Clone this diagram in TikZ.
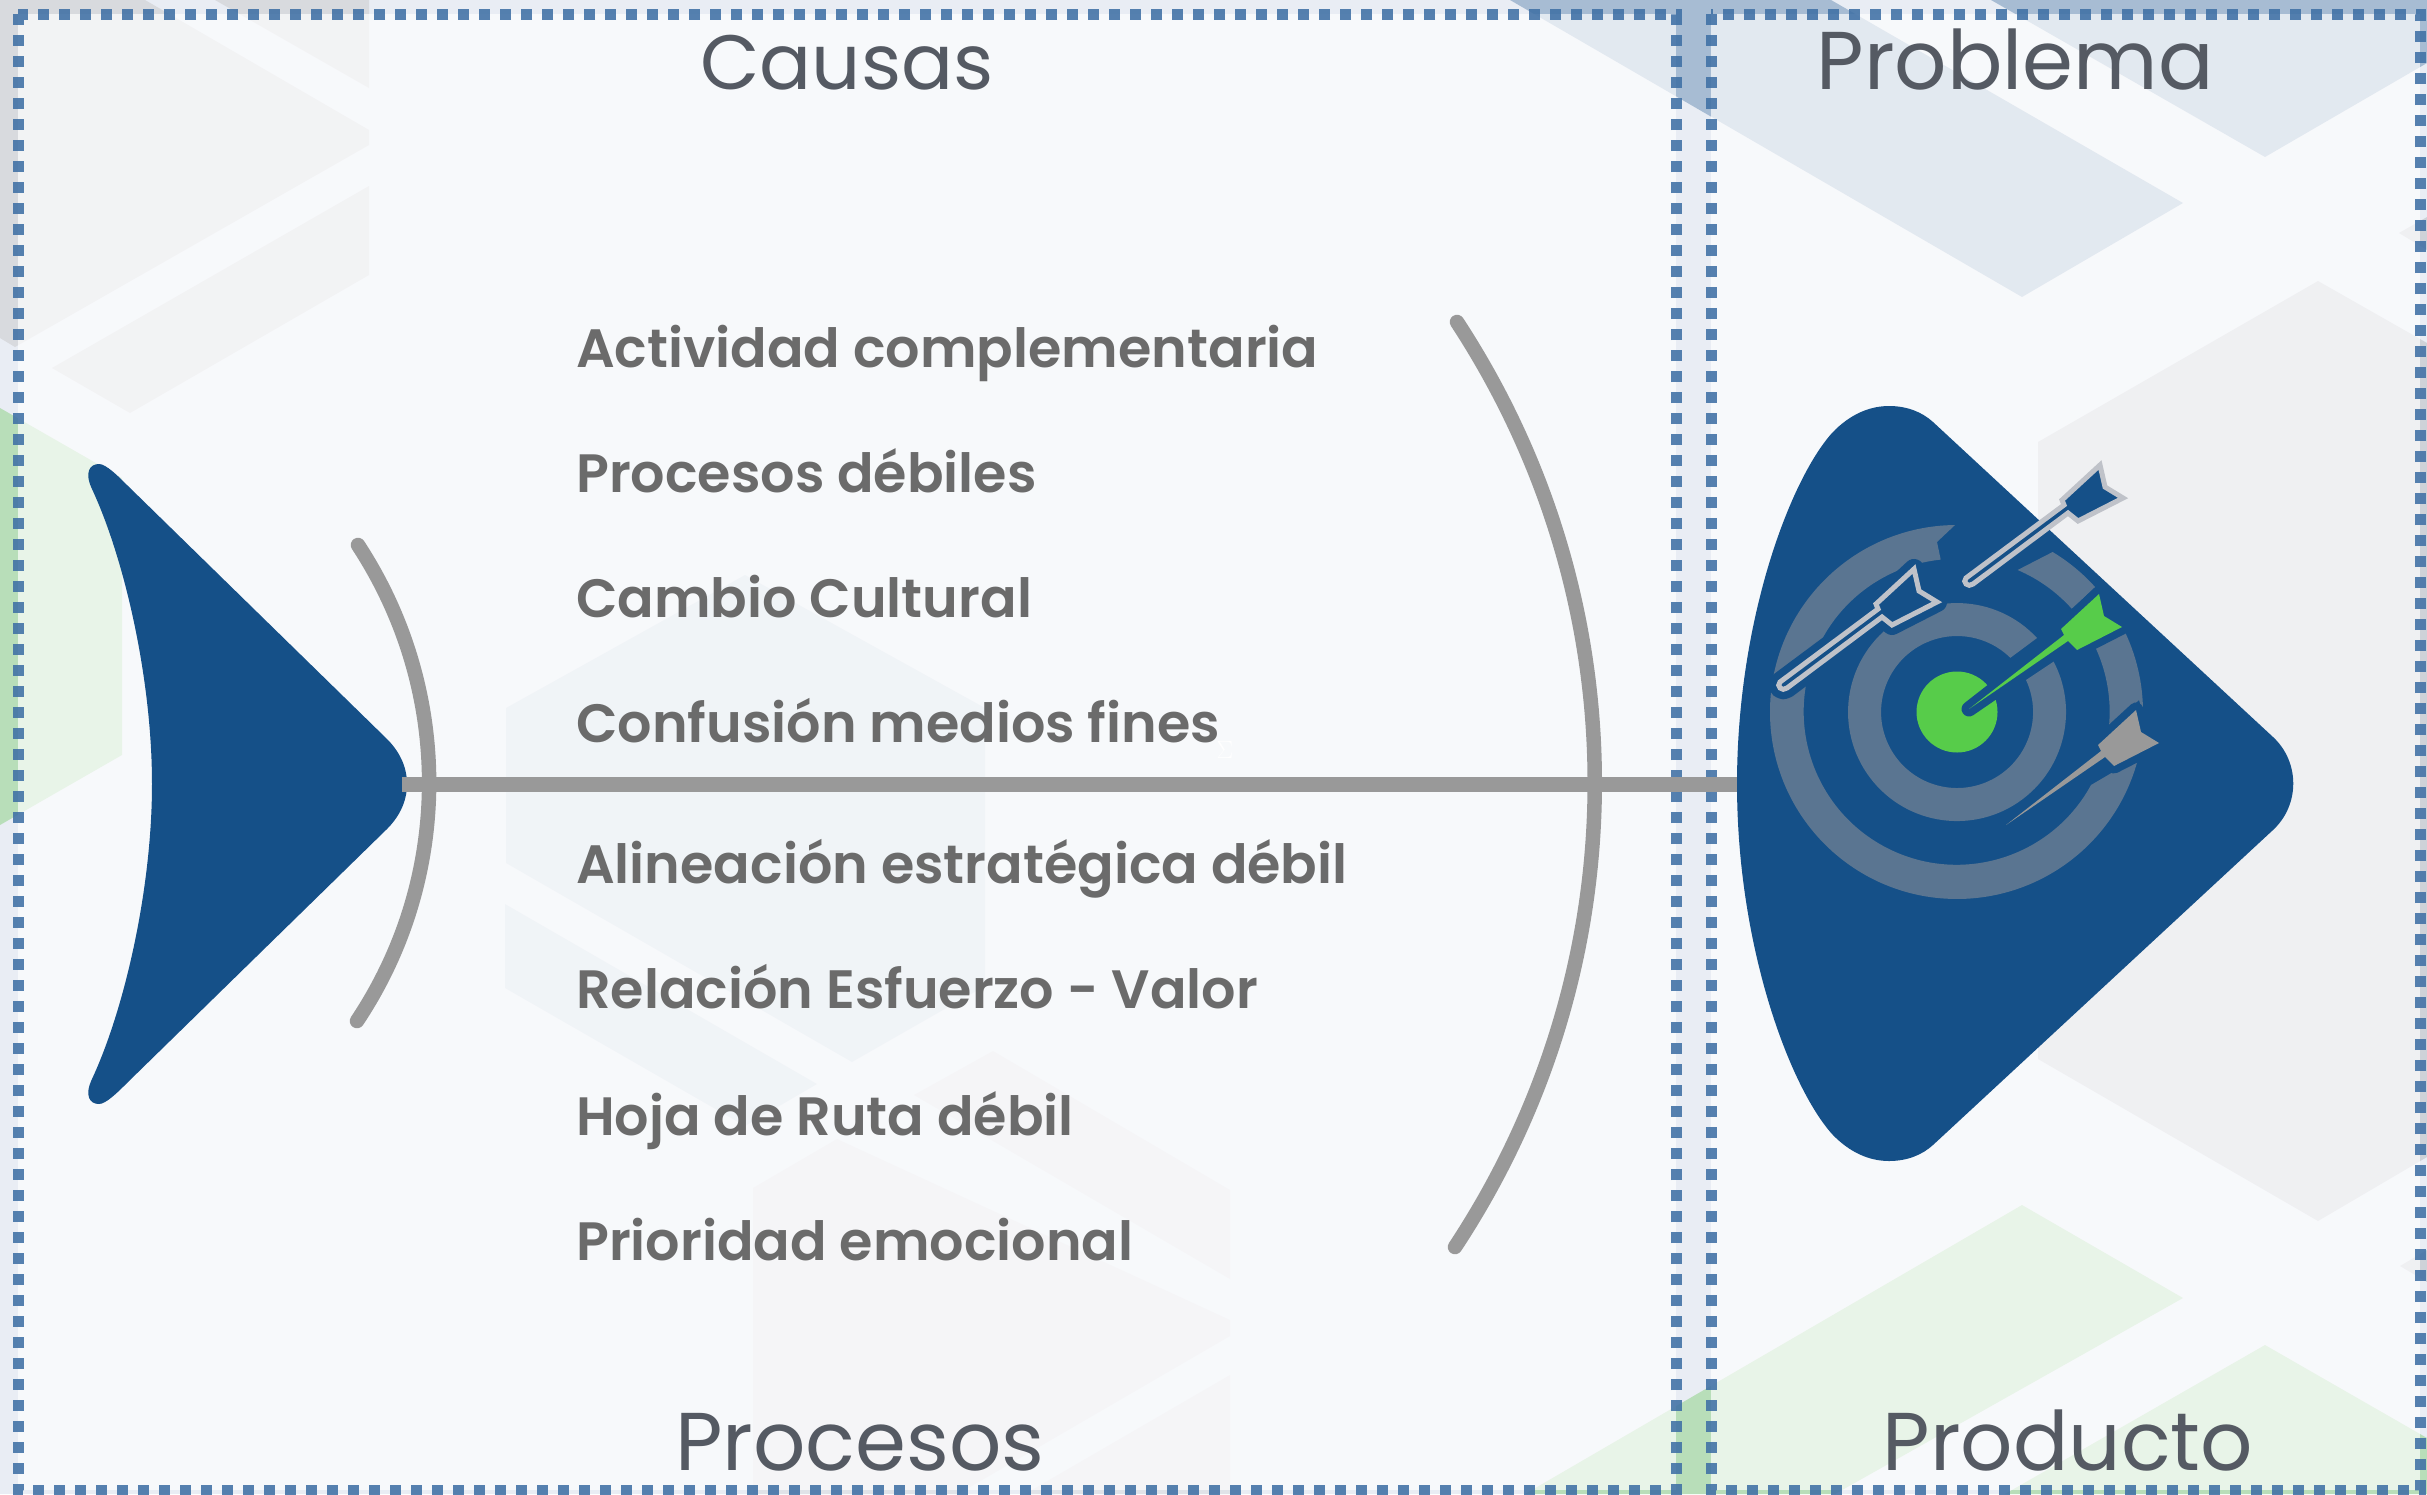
\documentclass[tikz,border=0pt]{standalone}
\usepackage{xcolor}
\usepackage{fontspec}
\usepackage{tikz}
\setmainfont{Poppins}
\newfontfamily\itemfont{Poppins SemiBold}

\definecolor{fishblue}{HTML}{155088}
\definecolor{ringblue}{HTML}{5A7591}
\definecolor{spinegray}{HTML}{999999}
\definecolor{dartsilver}{HTML}{BFC2C9}
\definecolor{dartgreen}{HTML}{57CC4A}
\definecolor{framedots}{HTML}{3F70A5}
\definecolor{titlegray}{HTML}{555A63}
\definecolor{itemgray}{HTML}{6B6B6B}

\tikzset{
    panel/.style={fill=white, fill opacity=0.68},
    framebox/.style={draw=framedots, draw opacity=0.88, line width=11pt, dash pattern=on 11pt off 10pt},
    bone/.style={draw=spinegray, line width=14.5pt, line cap=round},
    itemlabel/.style={anchor=base west, inner sep=0pt, text=itemgray, font=\itemfont\fontsize{54}{60}\selectfont},
    titlelabel/.style={anchor=base, inner sep=0pt, text=titlegray, font=\fontsize{82}{90}\selectfont},
    halo/.style={draw=fishblue, line join=round}
}

\newcommand{\dartwide}{(1914,569) -- (1919,591) -- (1937,602) -- (1892,625) -- (1882,617) -- (1787,688) .. controls (1782,692) and (1776,686) .. (1780,682) -- (1878,609) -- (1876,604) -- cycle}
\newcommand{\dartthin}{(1914,569) -- (1919,591) -- (1937,602) -- (1892,625) -- (1883,616) -- (1784,684) -- (1879,610) -- (1876,604) -- cycle}

\begin{document}
\begin{tikzpicture}[x=1pt, y=-1pt]
    \useasboundingbox (0,0) rectangle (2427,1494);
    \fill[fill={rgb,255:red,233;green,237;blue,244}] (0,0) rectangle (2427,1494);

    \fill[fill={rgb,255:red,216;green,218;blue,222}] (145,0) -- (369,130) -- (369,145) -- (15,347) -- (0,338) -- (0,0) -- cycle;
    \fill[fill={rgb,255:red,216;green,218;blue,222}] (215,0) -- (369,88) -- (369,0) -- cycle;
    \fill[fill={rgb,255:red,216;green,218;blue,222}] (369,186) -- (52,368) -- (130,413) -- (369,275) -- cycle;
    \fill[fill={rgb,255:red,184;green,222;blue,185}] (0,408) -- (122,478) -- (122,755) -- (0,825) -- cycle;
    \fill[fill={rgb,255:red,210;green,222;blue,232}] (745,575) -- (985,708) -- (985,986) -- (852,1062) -- (506,863) -- (506,708) -- cycle;
    \fill[fill={rgb,255:red,210;green,222;blue,232}] (505,904) -- (817,1084) -- (745,1126) -- (505,988) -- cycle;
    \fill[fill={rgb,255:red,224;green,227;blue,232}] (993,1051) -- (1230,1190) -- (1230,1279) -- (914,1095) -- cycle;
    \fill[fill={rgb,255:red,224;green,227;blue,232}] (753,1188) -- (837,1139) -- (1230,1320) -- (1230,1336) -- (958,1494) -- (753,1494) -- cycle;
    \fill[fill={rgb,255:red,224;green,227;blue,232}] (1230,1375) -- (1025,1494) -- (1230,1494) -- cycle;
    \fill[fill={rgb,255:red,167;green,188;blue,211}] (1510,0) -- (2022,297) -- (2183,203) -- (1831,0) -- cycle;
    \fill[fill={rgb,255:red,167;green,188;blue,211}] (1991,0) -- (2265,157) -- (2427,63) -- (2427,0) -- cycle;
    \fill[fill={rgb,255:red,206;green,210;blue,216}] (2038,442) -- (2318,281) -- (2427,343) -- (2427,1157) -- (2318,1221) -- (2038,1059) -- cycle;
    \fill[fill={rgb,255:red,206;green,210;blue,216}] (2399,233) -- (2427,217) -- (2427,250) -- cycle;
    \fill[fill={rgb,255:red,206;green,210;blue,216}] (2400,1266) -- (2427,1250) -- (2427,1282) -- cycle;
    \fill[fill={rgb,255:red,184;green,222;blue,185}] (2022,1205) -- (2183,1298) -- (1835,1494) -- (1525,1494) -- cycle;
    \fill[fill={rgb,255:red,184;green,222;blue,185}] (2265,1345) -- (2427,1438) -- (2427,1494) -- (2005,1494) -- cycle;

    \fill[panel] (18,14) rectangle (1676,1490);
    \fill[panel] (1711,14) rectangle (2420,1490);
    \draw[framebox] (18,14) rectangle (1676,1490);
    \draw[framebox] (1711,14) rectangle (2420,1490);

    \coordinate (tailnose) at (402,784.5);
    \coordinate (headleft) at (1740,784.5);
    \coordinate (smalltop) at (358,545);
    \coordinate (smallbot) at (357,1021);
    \coordinate (bigtop) at (1457,322);
    \coordinate (bigbot) at (1455,1247);

    \fill[fishblue] (152,784) .. controls (152,680) and (125,560) .. (92,489) .. controls (84,472) and (90,464) .. (99,464) .. controls (106,464) and (118,476) .. (127,485) -- (387,739) .. controls (398,750) and (407,765) .. (407,784) .. controls (407,803) and (398,818) .. (387,829) -- (127,1083) .. controls (118,1092) and (106,1104) .. (99,1104) .. controls (90,1104) and (84,1096) .. (92,1079) .. controls (125,1008) and (152,888) .. (152,784) -- cycle;

    \draw[bone] (smalltop) .. controls (453,690) and (453,877) .. (smallbot);
    \draw[bone] (bigtop) .. controls (1641,603) and (1641,965) .. (bigbot);
    \draw[bone, line cap=butt] (tailnose) -- (headleft);

    \fill[fishblue] (1737,784) .. controls (1737,620) and (1790,480) .. (1832,433) .. controls (1850,414) and (1870,406) .. (1889,406) .. controls (1907,406) and (1922,412) .. (1933,422) -- (2273,737) .. controls (2300,762) and (2300,805) .. (2273,830) -- (1933,1145) .. controls (1922,1155) and (1907,1161) .. (1889,1161) .. controls (1870,1161) and (1850,1153) .. (1832,1134) .. controls (1790,1087) and (1737,947) .. (1737,784) -- cycle;

    \fill[ringblue] (1955,525) arc[start angle=-90.6, end angle=-346, radius=187] -- (2091,785) arc[start angle=-331.4, end angle=-96, radius=153] -- (1937,542) -- cycle;
    \fill[ringblue] (2052.6,552) arc[start angle=-59, end angle=-42, radius=186] -- (2072,609) arc[start angle=-41.8, end angle=-66.9, radius=154] -- cycle;
    \fill[ringblue] (2123,628) arc[start angle=-26.8, end angle=0.3, radius=186] -- (2139,700) -- (2109,726) arc[start angle=5.3, end angle=-26.7, radius=153] -- cycle;
    \fill[ringblue] (2037,638) arc[start angle=-42.8, end angle=-387.6, radius=109] -- (2026,680) arc[start angle=-384.9, end angle=-45.5, radius=76] -- cycle;
    \fill[dartgreen] (1957,712) circle[radius=40.5];

    \draw[halo, line width=20pt] \dartwide;
    \draw[fill=fishblue, draw=dartsilver, line width=5pt] \dartwide;

    \begin{scope}[shift={(186,-104)}]
        \draw[fill=fishblue, draw=dartsilver, line width=5pt] \dartwide;
    \end{scope}
    \begin{scope}[shift={(185,25)}]
        \draw[halo, line width=15pt] \dartthin;
        \fill[dartgreen] \dartthin;
    \end{scope}
    \begin{scope}[shift={(222,141)}]
        \draw[halo, line width=15pt] \dartthin;
        \fill[spinegray] \dartthin;
    \end{scope}

    \node[titlelabel, font=\fontsize{77}{90}\selectfont] at (847,89) (causas) {Causas};
    \node[titlelabel] at (2015,89) (problema) {Problema};
    \node[titlelabel] at (860,1470) (procesos) {Procesos};
    \node[titlelabel] at (2068,1470) (producto) {Producto};

    \node[itemlabel] at (576,367) (item1) {Actividad complementaria};
    \node[itemlabel] at (576,492) (item2) {Procesos débiles};
    \node[itemlabel] at (576,617) (item3) {Cambio Cultural};
    \node[itemlabel] at (576,742) (item4) {Confusión medios fines};
    \node[itemlabel] at (576,883) (item5) {Alineación estratégica débil};
    \node[itemlabel] at (576,1008) (item6) {Relación Esfuerzo - Valor};
    \node[itemlabel] at (576,1135) (item7) {Hoja de Ruta débil};
    \node[itemlabel] at (576,1260) (item8) {Prioridad emocional};

    \node[text=white, inner sep=0pt, font=\fontsize{70}{70}\selectfont] at (1225,750) (sigma) {$\Sigma$};
\end{tikzpicture}
\end{document}
